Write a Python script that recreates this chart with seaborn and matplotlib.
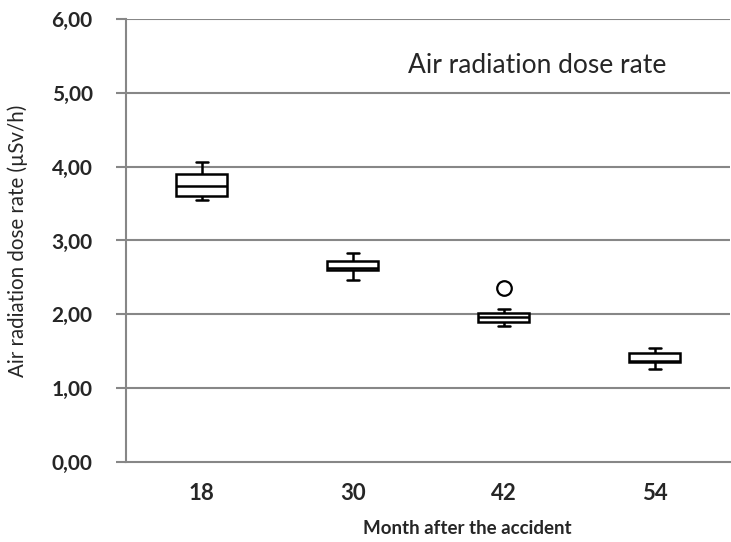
import matplotlib
matplotlib.use("Agg")
import matplotlib.pyplot as plt
import seaborn as sns
import pandas as pd

# Box summaries per survey month (µSv/h)
months = ["18", "30", "42", "54"]
whisker_low = [3.55, 2.47, 1.84, 1.26]
quartile_1 = [3.60, 2.60, 1.89, 1.35]
medians = [3.74, 2.63, 1.97, 1.37]
quartile_3 = [3.90, 2.72, 2.02, 1.47]
whisker_high = [4.06, 2.83, 2.07, 1.54]
outlier_months = ["42"]
outlier_values = [2.35]
y_ticks = [0, 1, 2, 3, 4, 5, 6]

rows = []
for i, m in enumerate(months):
    for v in (whisker_low[i], quartile_1[i], medians[i], quartile_3[i], whisker_high[i]):
        rows.append({"month": m, "rate": v})
summary = pd.DataFrame(rows)
outliers = pd.DataFrame({"month": outlier_months, "rate": outlier_values})

sns.set_theme(style="white")
plt.rcParams["font.family"] = ["Lato", "DejaVu Sans"]

fig = plt.figure(figsize=(7.31, 5.42), dpi=100)
ax = fig.add_axes([0.1724, 0.1476, 0.8266, 0.8174])

grid_color = "#878787"
for t in y_ticks[1:]:
    ax.axhline(t, color=grid_color, lw=1.5, zorder=0)

line_kw = dict(color="black", linewidth=1.8)
sns.boxplot(
    data=summary, x="month", y="rate", order=months, ax=ax,
    width=0.34, whis=(0, 100), showfliers=False,
    boxprops=dict(facecolor="white", edgecolor="black", linewidth=1.8),
    medianprops=line_kw, whiskerprops=line_kw, capprops=line_kw,
    capwidths=0.08, zorder=3,
)
sns.scatterplot(
    data=outliers, x="month", y="rate", ax=ax, marker="o", s=110,
    facecolor="white", edgecolor="black", linewidth=1.6, zorder=4,
)

ax.set_xlim(-0.5, 3.5)
ax.set_ylim(0, 6)
ax.set_yticks(y_ticks)
ax.set_yticklabels([f"{t:.2f}".replace(".", ",") for t in y_ticks],
                   fontsize=15, fontweight="bold")
ax.set_xticks(range(len(months)))
ax.set_xticklabels(months, fontsize=16, fontweight="bold")

# category boundary ticks on the x axis
ax.set_xticks([-0.5, 0.5, 1.5, 2.5, 3.5], minor=True)
ax.tick_params(axis="x", which="major", length=0, pad=15)
ax.tick_params(axis="x", which="minor", length=7, width=1.5, color=grid_color, direction="out")
ax.tick_params(axis="y", which="major", length=7, width=1.5, color=grid_color,
               direction="out", pad=17, left=True)

for side in ("top", "right"):
    ax.spines[side].set_visible(False)
for side in ("left", "bottom"):
    ax.spines[side].set_color(grid_color)
    ax.spines[side].set_linewidth(1.5)

ax.set_xlabel("Month after the accident", fontsize=13.5, fontweight="bold")
ax.xaxis.set_label_coords(0.565, -0.151)
ax.xaxis.label.set_verticalalignment("center")
ax.set_ylabel("Air radiation dose rate (µSv/h)", fontsize=14.8)
ax.yaxis.set_label_coords(-0.162, 0.5)
ax.text(2.22, 5.27, "Air radiation dose rate", fontsize=19, ha="center", va="baseline")

fig.savefig("out.png", dpi=100)
